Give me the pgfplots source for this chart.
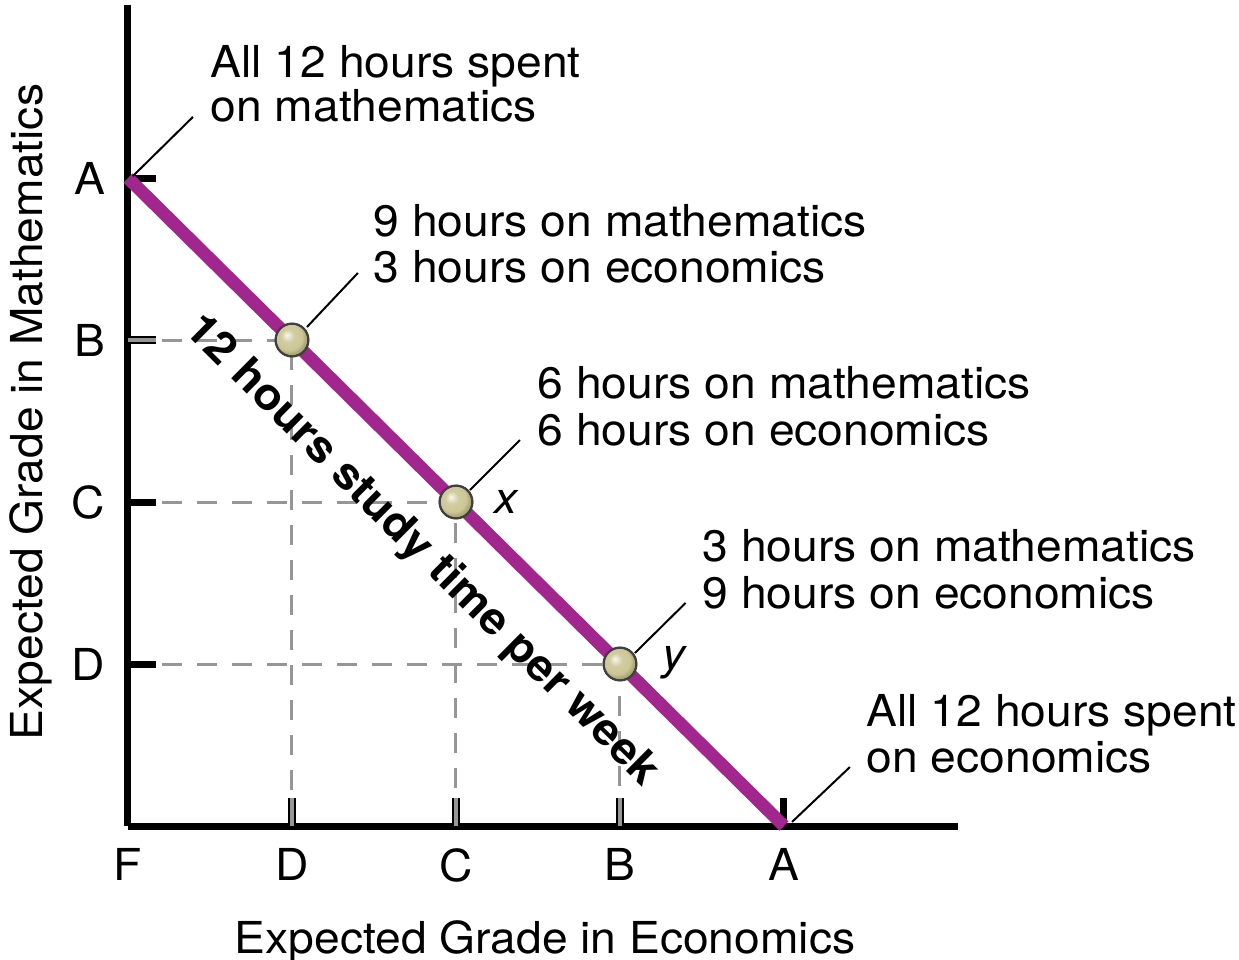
\documentclass[border=0pt]{standalone}
\usepackage{fontspec}
\setmainfont[FakeStretch=1.05]{TeX Gyre Heros}
\usepackage{pgfplots}
\pgfplotsset{compat=1.18}
\definecolor{linepurple}{RGB}{161,38,142}
\definecolor{dashgray}{RGB}{150,150,150}
\definecolor{khaki}{RGB}{205,198,150}
\makeatletter
\pgfdeclareradialshading[tikz@ball]{ball}{\pgfqpoint{-8bp}{8bp}}{color(0bp)=(tikz@ball!15!white); color(10bp)=(tikz@ball!90!white); color(20bp)=(tikz@ball); color(25bp)=(tikz@ball!85!black); color(50bp)=(tikz@ball!60!black)}
\makeatother
\begin{document}
\fontsize{11pt}{11.25pt}\selectfont
\begin{tikzpicture}
\begin{axis}[
  scale only axis, width=207.5pt, height=205.25pt,
  xmin=0, xmax=5.061, ymin=0, ymax=5.068,
  axis x line=bottom, axis y line=left,
  axis line style={-, line width=1.75pt, black},
  clip=false,
  tick align=inside,
  major tick length=7pt,
  every tick/.style={black, line width=1.75pt},
  xtick={0,4}, xticklabels={F,A},
  extra x ticks={1,2,3}, extra x tick labels={D,C,B},
  ytick={1,2,4}, yticklabels={D,C,A},
  extra y ticks={3}, extra y tick labels={B},
  extra tick style={major tick style={draw=black, double=dashgray, double distance=0.9pt, line width=0.45pt}},
  xticklabel style={anchor=north, inner sep=0pt, yshift=-5.5pt},
  yticklabel style={anchor=east, inner sep=0pt, xshift=-5.5pt},
]
% dashed guide lines
\addplot[dashgray, line width=0.75pt, dash pattern=on 5pt off 3.75pt] coordinates {(0.21,3) (1,3) (1,0.21)};
\addplot[dashgray, line width=0.75pt, dash pattern=on 5pt off 3.75pt] coordinates {(0.21,2) (2,2) (2,0.21)};
\addplot[dashgray, line width=0.75pt, dash pattern=on 5pt off 3.75pt] coordinates {(0.21,1) (3,1) (3,0.21)};
% budget line
\addplot[linepurple, line width=3.2pt] coordinates {(0,4) (4,0)};
% points
\addplot[only marks, mark=ball, mark size=4.1pt, mark options={ball color=khaki}] coordinates {(1,3) (2,2) (3,1)};
\addplot[only marks, mark=o, mark size=4.1pt, mark options={draw=black!75, line width=0.55pt}] coordinates {(1,3) (2,2) (3,1)};
% leader lines
\draw[line width=0.5pt] (axis cs:0.030,4.012) -- (axis cs:0.396,4.377);
\draw[line width=0.5pt] (axis cs:1.091,3.080) -- (axis cs:1.402,3.414);
\draw[line width=0.5pt] (axis cs:2.085,2.074) -- (axis cs:2.390,2.383);
\draw[line width=0.5pt] (axis cs:3.091,1.068) -- (axis cs:3.400,1.377);
\draw[line width=0.5pt] (axis cs:4.049,0.025) -- (axis cs:4.402,0.364);
% annotations
\node[anchor=base west, inner sep=0pt] at (axis cs:0.500,4.623) {All 12 hours spent};
\node[anchor=base west, inner sep=0pt] at (axis cs:0.500,4.346) {on mathematics};
\node[anchor=base west, inner sep=0pt] at (axis cs:1.494,3.642) {9 hours on mathematics};
\node[anchor=base west, inner sep=0pt] at (axis cs:1.494,3.352) {3 hours on economics};
\node[anchor=base west, inner sep=0pt] at (axis cs:2.494,2.642) {6 hours on mathematics};
\node[anchor=base west, inner sep=0pt] at (axis cs:2.494,2.346) {6 hours on economics};
\node[anchor=base west, inner sep=0pt] at (axis cs:3.500,1.630) {3 hours on mathematics};
\node[anchor=base west, inner sep=0pt] at (axis cs:3.500,1.340) {9 hours on economics};
\node[anchor=base west, inner sep=0pt] at (axis cs:4.500,0.617) {All 12 hours spent};
\node[anchor=base west, inner sep=0pt] at (axis cs:4.500,0.333) {on economics};
\node[anchor=base west, inner sep=0pt, font=\itshape] at (axis cs:2.232,1.932) {x};
\node[anchor=base west, inner sep=0pt, font=\itshape] at (axis cs:3.256,0.969) {y};
\node[anchor=base, inner sep=0pt, rotate=-44.74, font=\bfseries] at (axis cs:1.740,1.645) {12 hours study time per week};
% axis labels
\node[anchor=base, inner sep=0pt] at (axis cs:2.543,-0.784) {Expected Grade in Economics};
\node[anchor=base, inner sep=0pt, rotate=90] at (axis cs:-0.524,2.556) {Expected Grade in Mathematics};
% picture extent
\coordinate (bbsw) at (axis cs:-0.7805,-0.8210);
\coordinate (bbne) at (axis cs:6.7744,5.0988);
\end{axis}
\pgfresetboundingbox
\useasboundingbox (bbsw) rectangle (bbne);
\end{tikzpicture}
\end{document}
